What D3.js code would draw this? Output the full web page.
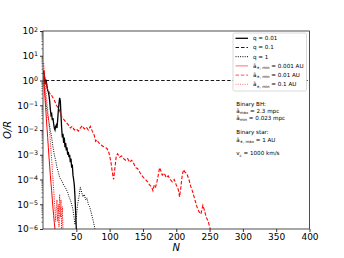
<!DOCTYPE html>
<html>
<head>
<meta charset="utf-8">
<script src="https://cdn.jsdelivr.net/npm/d3@7"></script>
<style>
body { margin: 0; background: #fff; }
svg { display: block; font-family: "DejaVu Sans", sans-serif; }
</style>
</head>
<body>
<div id="chart"></div>
<script>
// ---- data ----
// q = 0.01 (black solid)
var nQ001 = [1,2,3,4,5,6,7,8,9,10,11,12,13,14,15,16,17,18,19,20,21,22,23,24,25,26,27,28,29,30,
  31,32,33,34,35,36,37,38,39,40,41,42,43,44,45,46,47,48,49,50];
var q001 = [2.5,1.5,0.7,1.1,0.9,0.6,0.4,0.35,0.25,0.15,0.07,0.04,0.045,0.025,0.03,0.018,0.012,0.01,0.014,0.016,
  0.012,0.025,0.06,0.12,0.2,0.15,0.04,0.012,0.005,0.007,0.003,0.005,0.002,0.003,0.0015,0.002,0.001,0.0013,0.0008,0.001,
  0.0005,0.0007,0.0003,0.0004,0.00015,0.0001,0.00006,0.00002,0.000005,0.000001];
// q = 0.1 (black dashed)
var nQ01 = [4, 400];
var q01 = [1, 1];
// q = 1 (black dotted)
var nQ1 = [1,3,5,7,9,11,13,15,17,19,21,23,25,27,29,31,33,35,37,39,41,43,45,47,48,50,52,54,56,58,60,62,64,66,68,70,72,74,76,78];
var q1 = [1.0,0.3,0.1,0.04,0.02,0.01,0.005,0.002,0.001,0.0006,0.0003,0.0002,0.00012,0.0001,0.00008,0.00006,0.00005,0.00004,0.00003,0.00002,
  0.000015,0.00001,0.000006,0.0000025,0.0000015,0.000003,0.00001,0.00002,0.00005,0.00003,0.00002,0.000025,0.000015,0.000018,0.00001,0.000008,0.000005,0.000003,0.0000018,0.000001];
// a*,min = 0.001 AU (red solid)
var nA0001 = [1,2,3,4,5,6,7,8,9,10,11,12,13,14,15,16,17,18];
var a0001 = [1.5,0.5,0.2,0.08,0.03,0.012,0.005,0.002,0.0008,0.00035,0.00015,0.00007,0.000035,0.000015,0.000007,0.0000035,0.0000018,0.000001];
// a*,min = 0.01 AU (red dashed)
var nA001 = [1,2,3,4,5,6,8,10,12,14,16,18,20,22,24,26,28,30,32,35,38,41,44,47,50,53,56,59,62,65,68,71,74,77,79,81,84,87,90,93,96,99,
  102,104,106,108,110,112,115,118,121,124,127,130,133,136,139,142,145,148,151,154,157,160,163,165,167,169,171,173,175,177,179,
  182,185,188,191,194,197,200,203,205,207,209,211,213,216,219,222,225,228,231,234,237,240,242,245,248,251];
var a001 = [2.5,1.8,1.2,0.9,0.7,0.5,0.4,0.3,0.28,0.22,0.18,0.14,0.1,0.085,0.07,0.05,0.035,0.03,0.025,0.02,0.016,0.012,0.014,0.01,
  0.011,0.009,0.012,0.015,0.011,0.013,0.01,0.014,0.009,0.006,0.0035,0.004,0.003,0.0025,0.0022,0.002,0.0018,0.0012,
  0.0005,0.0002,0.0001,0.0003,0.0009,0.0011,0.0008,0.0009,0.0007,0.0006,0.0007,0.0005,0.0006,0.00045,0.0003,0.00028,0.0002,
  0.00015,0.00012,0.0001,0.00008,0.00006,0.00005,0.000035,0.00006,0.00005,0.00008,0.00015,0.0003,0.00022,0.00015,
  0.00018,0.00012,0.00014,0.0001,0.00008,0.0001,0.00006,0.00004,0.00002,0.00005,0.00015,0.00025,0.0002,0.00017,0.0001,
  0.00005,0.00003,0.000015,0.000008,0.000005,0.000004,0.000009,0.000006,0.000003,0.000002,0.000001];
// a*,min = 0.1 AU (red dotted)
var nA01 = [1,2,3,4,5,6,7,8,9,10,11,12,13,14,15,16,17,18,19,20,21,22,23,24,25,26,27,28,29,30];
var a01 = [5,2,0.8,0.4,0.25,0.12,0.07,0.035,0.018,0.008,0.0035,0.0015,0.0006,0.00025,0.0001,0.00004,0.000015,0.000006,0.000002,0.000008,
  0.000015,0.000002,0.00001,0.0000012,0.000025,0.000003,0.000015,0.000001,0.000008,0.000001];

// ticks and labels
var xTicks = [50, 100, 150, 200, 250, 300, 350, 400];
var yTicks = [1e-6, 1e-5, 1e-4, 1e-3, 1e-2, 1e-1, 1e0, 1e1, 1e2];
var legendLabels = [
  [["q = 0.01", ""]],
  [["q = 0.1", ""]],
  [["q = 1", ""]],
  [["ā", ""], ["∗, min", "sub"], [" = 0.001 AU", ""]],
  [["ā", ""], ["∗, min", "sub"], [" = 0.01 AU", ""]],
  [["ā", ""], ["∗, min", "sub"], [" = 0.1 AU", ""]]
];
var noteLines = [
  [["Binary BH:", ""]],
  [["ā", ""], ["max", "sub"], [" = 2.3 mpc", ""]],
  [["ā", ""], ["min", "sub"], [" = 0.023 mpc", ""]],
  [["Binary star:", ""]],
  [["ā", ""], ["∗, max", "sub"], [" = 1 AU", ""]],
  [["v", ""], ["c", "sub"], [" =  1000 km/s", ""]]
];

var width = 344, height = 258;
var plotL = 43, plotR = 309.5, plotT = 31, plotB = 229;

var x = d3.scaleLinear().domain([0, 400]).range([plotL, plotR]);
var y = d3.scaleLog().domain([1e-6, 1e2]).range([plotB, plotT]);

var series = [
  {n: nQ001, v: q001, color: "#000", dash: null, w: 1.3},
  {n: nQ01, v: q01, color: "#000", dash: "3.5,2", w: 0.9},
  {n: nQ1, v: q1, color: "#000", dash: "1,1.3", w: 1.0},
  {n: nA0001, v: a0001, color: "#ff0000", dash: null, w: 1.0},
  {n: nA001, v: a001, color: "#ff0000", dash: "3.5,1.8", w: 1.1},
  {n: nA01, v: a01, color: "#ff0000", dash: "1,1.3", w: 1.0}
];

var svg = d3.select("#chart").append("svg")
  .attr("width", width)
  .attr("height", height);

svg.append("defs").append("clipPath").attr("id", "clip")
  .append("rect")
  .attr("x", plotL).attr("y", plotT)
  .attr("width", plotR - plotL).attr("height", plotB - plotT);

//draw curves
var line = d3.line()
  .x(function(d) { return x(d[0]); })
  .y(function(d) { return y(d[1]); });

svg.append("g").attr("clip-path", "url(#clip)")
  .selectAll("path")
  .data(series)
  .enter().append("path")
  .attr("d", function(s) { return line(d3.zip(s.n, s.v)); })
  .attr("fill", "none")
  .attr("stroke", function(s) { return s.color; })
  .attr("stroke-width", function(s) { return s.w; })
  .attr("stroke-dasharray", function(s) { return s.dash; });

//x axis
var gx = svg.append("g")
  .attr("transform", "translate(0," + plotB + ")")
  .call(d3.axisBottom(x).tickValues(xTicks).tickSize(3).tickPadding(1.5));
gx.select(".domain").remove();
gx.selectAll("text").attr("font-size", "9px").attr("fill", "#000").attr("font-family", "DejaVu Sans");
gx.selectAll("line").attr("stroke-width", 0.8);

//y axis, major ticks as 10^k
var sup = function(v) { return Math.round(Math.log10(v)); };
var gy = svg.append("g")
  .attr("transform", "translate(" + plotL + ",0)")
  .call(d3.axisLeft(y).tickValues(yTicks).tickSize(3).tickPadding(2).tickFormat(function() { return ""; }));
gy.select(".domain").remove();
gy.selectAll("line").attr("stroke-width", 0.8);
gy.selectAll(".tick text")
  .attr("font-size", "9px").attr("fill", "#000").attr("font-family", "DejaVu Sans")
  .each(function(d) {
    var t = d3.select(this);
    t.append("tspan").text("10");
    var e = sup(d);
    t.append("tspan")
      .attr("dy", "-0.45em")
      .attr("font-size", "6.3px")
      .text(e < 0 ? "\u2212" + (-e) : e);
  });

//minor log ticks
var minor = [];
for (var k = -6; k < 2; k++) {
  for (var m = 2; m < 10; m++) minor.push(m * Math.pow(10, k));
}
var gm = svg.append("g")
  .attr("transform", "translate(" + plotL + ",0)")
  .call(d3.axisLeft(y).tickValues(minor).tickSize(1.6).tickFormat(""));
gm.select(".domain").remove();
gm.selectAll("line").attr("stroke-width", 0.5);

//frame
svg.append("rect")
  .attr("x", plotL).attr("y", plotT)
  .attr("width", plotR - plotL).attr("height", plotB - plotT)
  .attr("fill", "none")
  .attr("stroke", "#222")
  .attr("stroke-width", 0.8);

//axis titles
svg.append("text")
  .attr("transform", "translate(11," + ((plotT + plotB) / 2) + ") rotate(-90)")
  .attr("text-anchor", "middle")
  .attr("font-size", "10px")
  .attr("font-style", "italic")
  .text("O/R");
svg.append("text")
  .attr("x", (plotL + plotR) / 2)
  .attr("y", 251)
  .attr("text-anchor", "middle")
  .attr("font-size", "10px")
  .attr("font-style", "italic")
  .text("N");

//rich text helper for subscripts
function richText(sel, parts) {
  parts.forEach(function(p) {
    if (p[1] == "sub") {
      sel.append("tspan").attr("font-size", "3.9px").attr("dy", "1.3").text(p[0]);
    } else {
      var t = sel.append("tspan").text(p[0]);
      if (sel.selectAll("tspan").size() > 1) t.attr("dy", "-1.3");
    }
  });
}

//legend
var lg = svg.append("g");
lg.append("rect")
  .attr("x", 233).attr("y", 33)
  .attr("width", 73.5).attr("height", 58)
  .attr("rx", 1.5)
  .attr("fill", "#fff")
  .attr("stroke", "#d0d0d0")
  .attr("stroke-width", 0.8);

var rows = lg.selectAll(".row")
  .data(series)
  .enter().append("g")
  .attr("class", "row")
  .attr("transform", function(d, i) { return "translate(0," + (38.3 + i * 9.2) + ")"; });
rows.append("line")
  .attr("x1", 235.5).attr("x2", 248)
  .attr("stroke", function(s) { return s.color; })
  .attr("stroke-opacity", function(s) { return s.color == "#000" ? 1 : 0.55; })
  .attr("stroke-width", function(s) { return s.w; })
  .attr("stroke-dasharray", function(s) { return s.dash; });
rows.append("text")
  .attr("x", 253)
  .attr("dy", "0.35em")
  .attr("font-size", "5.6px")
  .each(function(d, i) { richText(d3.select(this), legendLabels[i]); });

//notes
var noteY = [104, 110.8, 118, 132.3, 140, 153.3];
noteLines.forEach(function(parts, i) {
  var t = svg.append("text")
    .attr("x", 236.3)
    .attr("y", noteY[i])
    .attr("dy", "0.35em")
    .attr("font-size", "5.6px");
  richText(t, parts);
});
</script>
</body>
</html>
